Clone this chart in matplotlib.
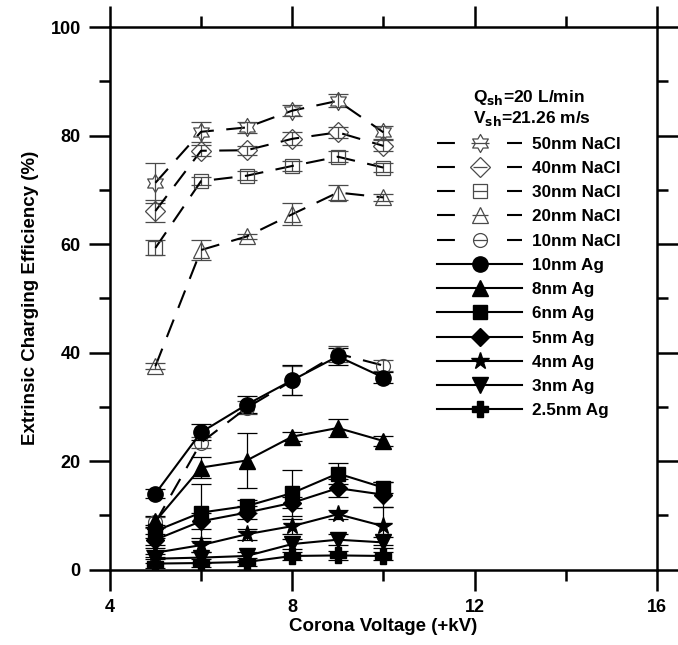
import numpy as np
import matplotlib.pyplot as plt
from matplotlib.lines import Line2D
from matplotlib.path import Path
from matplotlib.legend_handler import HandlerTuple

plt.rcParams['font.family'] = ['Liberation Sans', 'DejaVu Sans']
plt.rcParams['font.weight'] = 'bold'

voltage = [5, 6, 7, 8, 9, 10]

# NaCl particles (open markers, dashed lines)
nacl_labels = ['50nm NaCl', '40nm NaCl', '30nm NaCl', '20nm NaCl', '10nm NaCl']
nacl_eff = [
    [71.3, 80.7, 81.5, 84.6, 86.4, 80.6],
    [66.1, 77.2, 77.3, 79.4, 80.6, 78.1],
    [59.3, 71.6, 72.6, 74.4, 76.1, 74.1],
    [37.5, 58.9, 61.4, 65.5, 69.5, 68.6],
    [8.7, 23.4, 29.8, 34.8, 39.8, 37.6],
]
nacl_err = [
    [3.7, 1.8, 1.0, 1.0, 1.2, 1.2],
    [2.1, 1.0, 0.8, 1.2, 1.0, 1.0],
    [1.4, 0.8, 0.8, 1.0, 1.0, 0.8],
    [0.5, 1.8, 0.5, 2.0, 1.4, 0.6],
    [1.0, 1.0, 1.2, 2.7, 1.5, 1.0],
]

# Ag particles (filled markers, solid lines)
ag_labels = ['10nm Ag', '8nm Ag', '6nm Ag', '5nm Ag', '4nm Ag', '3nm Ag', '2.5nm Ag']
ag_eff = [
    [14.0, 25.3, 30.4, 34.9, 39.3, 35.4],
    [8.9, 18.8, 20.1, 24.5, 26.1, 23.7],
    [7.1, 10.5, 11.7, 14.1, 17.7, 15.1],
    [5.5, 8.9, 10.5, 12.3, 15.0, 13.8],
    [3.1, 4.5, 6.5, 8.0, 10.2, 8.0],
    [2.0, 2.2, 2.5, 4.7, 5.5, 5.0],
    [1.1, 1.2, 1.4, 2.5, 2.6, 2.5],
]
ag_err = [
    [0.9, 1.5, 1.5, 2.8, 1.6, 1.0],
    [1.0, 2.0, 5.0, 0.8, 1.7, 0.9],
    [1.2, 5.3, 1.2, 4.3, 1.9, 1.0],
    [1.0, 1.5, 1.2, 1.0, 1.6, 2.3],
    [0.8, 1.3, 1.0, 1.4, 0.8, 3.5],
    [0.8, 1.0, 0.8, 1.0, 1.0, 1.0],
    [0.8, 0.8, 0.8, 0.8, 0.8, 0.8],
]


def hexagram():
    ang = np.pi / 2 + np.arange(12) * np.pi / 6
    rad = np.where(np.arange(12) % 2 == 0, 1.0, 1 / np.sqrt(3))
    verts = np.column_stack([rad * np.cos(ang), rad * np.sin(ang)])
    verts = np.vstack([verts, verts[:1]])
    codes = [Path.MOVETO] + [Path.LINETO] * 11 + [Path.CLOSEPOLY]
    return Path(verts, codes)


nacl_markers = [hexagram(), 'D', 's', '^', 'o']
nacl_msize = [13, 10, 10, 11, 10]
ag_markers = ['o', '^', 's', 'D', '*', 'v', 'P']
ag_msize = [11, 11, 10, 9, 13, 11, 11]

grey = '#4a4a4a'
dash = (0, (9, 6))

fig = plt.figure(figsize=(6.78, 6.45), dpi=100)
ax = fig.add_axes([0.162, 0.117, 0.807, 0.841])

for y, e, m, ms in zip(nacl_eff, nacl_err, nacl_markers, nacl_msize):
    ax.errorbar(voltage, y, yerr=e, fmt='none', ecolor=grey, elinewidth=0.9,
                capsize=7, capthick=0.9, zorder=2)
    ax.plot(voltage, y, color='black', lw=1.5, linestyle=dash, zorder=3)
    ax.plot(voltage, y, linestyle='none', marker=m, ms=ms, mfc='none',
            mec=grey, mew=0.9, zorder=4)

for y, e, m, ms in zip(ag_eff, ag_err, ag_markers, ag_msize):
    ax.errorbar(voltage, y, yerr=e, fmt='none', ecolor='black', elinewidth=0.9,
                capsize=7, capthick=0.9, zorder=2)
    ax.plot(voltage, y, color='black', lw=1.5, marker=m, ms=ms, mfc='black',
            mec='black', zorder=5)

ax.set_xlim(4, 16)
ax.set_ylim(0, 100)
ax.set_xticks([4, 8, 12, 16])
ax.set_xticks([6, 10, 14], minor=True)
ax.set_yticks([0, 20, 40, 60, 80, 100])
ax.set_yticks([10, 30, 50, 70, 90], minor=True)
ax.tick_params(which='both', direction='out', top=True, right=True,
               width=1.8, labelsize=13, pad=6)
ax.tick_params(which='major', length=15)
ax.tick_params(which='minor', length=8)
for sp in ax.spines.values():
    sp.set_linewidth(1.8)

ax.set_xlabel('Corona Voltage (+kV)', fontsize=13.5, fontweight='bold', labelpad=2)
ax.set_ylabel('Extrinsic Charging Efficiency (%)', fontsize=13.5, fontweight='bold',
              labelpad=8)

ax.text(0.664, 0.871, 'Q$_{\\mathbf{sh}}$=20 L/min', transform=ax.transAxes,
        fontsize=12.5, fontweight='bold', va='center')
ax.text(0.664, 0.832, 'V$_{\\mathbf{sh}}$=21.26 m/s', transform=ax.transAxes,
        fontsize=12.5, fontweight='bold', va='center')

# legend proxies: NaCl entries show a broken dashed line with the open symbol
handles = []
for m, ms in zip(nacl_markers, nacl_msize):
    line = Line2D([], [], color='black', lw=1.5, linestyle=(0, (8.6, 25)))
    sym = Line2D([], [], linestyle='none', marker=m, ms=ms, mfc='none',
                 mec=grey, mew=0.9)
    bar = Line2D([], [], linestyle='none', marker='_', ms=ms, mec=grey, mew=0.9)
    handles.append((line, sym, bar))
for m, ms in zip(ag_markers, ag_msize):
    handles.append(Line2D([], [], color='black', lw=1.5, marker=m, ms=ms,
                          mfc='black', mec='black'))

ax.legend(handles, nacl_labels + ag_labels, loc='upper left',
          bbox_to_anchor=(0.6445, 0.788), bbox_transform=fig.transFigure,
          handler_map={tuple: HandlerTuple(ndivide=1, pad=0)},
          frameon=False, fontsize=12.3, handlelength=5.0, handletextpad=0.55,
          borderpad=0, borderaxespad=0, labelspacing=0.54)

fig.savefig('out.png', dpi=100)
